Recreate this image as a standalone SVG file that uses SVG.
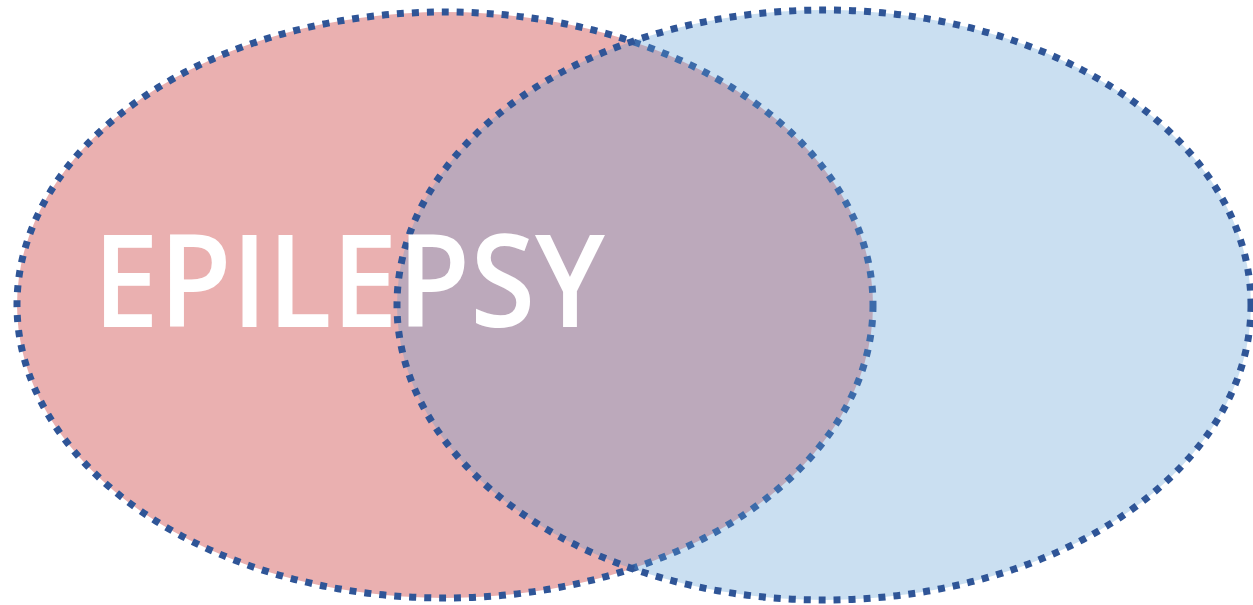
<svg xmlns="http://www.w3.org/2000/svg" width="1253" height="605" viewBox="0 0 1253 605">
<style>
.ring{stroke:#2F5597;stroke-width:7;stroke-dasharray:7 8}
.label{font-family:"Open Sans","Noto Sans","Liberation Sans",sans-serif;fill:#FFFFFF;font-size:128px;font-weight:600}
</style>
<rect width="1253" height="605" fill="#FFFFFF"/>
<g id="left-set">
<ellipse class="ring" cx="445" cy="305" rx="428" ry="293" fill="#EAB0B0"/>
</g>
<g id="right-set">
<ellipse class="ring" cx="824" cy="305" rx="427" ry="295" fill="#5B9BD5" fill-opacity="0.32"/>
</g>
<g id="label">
<text class="label" x="93" y="327" textLength="512" lengthAdjust="spacingAndGlyphs">EPILEPSY</text>
</g>
<g id="connectors"/>
</svg>
